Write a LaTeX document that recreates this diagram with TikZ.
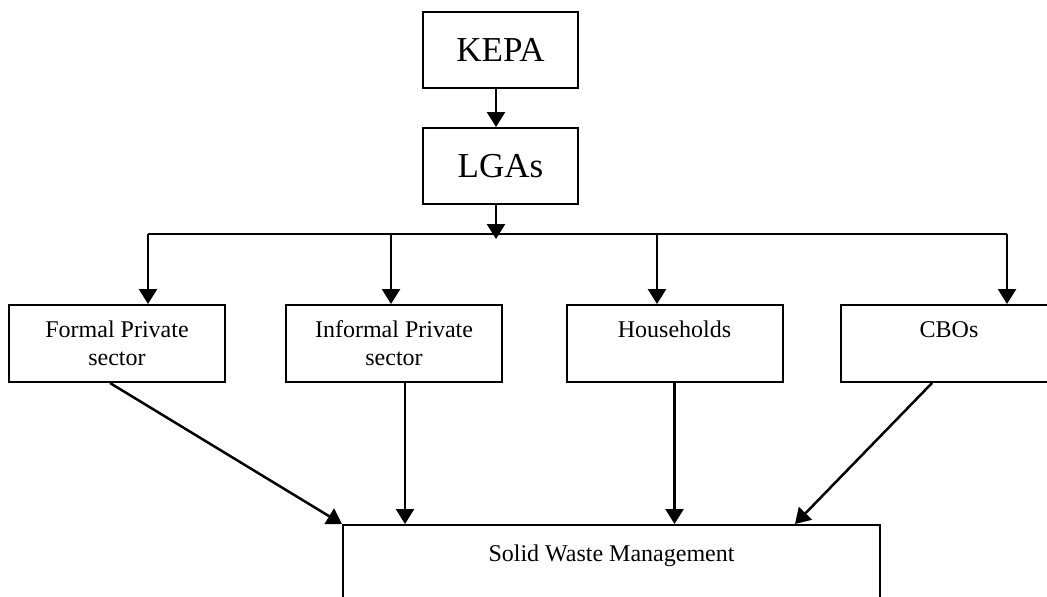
\documentclass[tikz,border=0pt]{standalone}
\usepackage{fontspec}
\setmainfont{Liberation Serif}
\usetikzlibrary{arrows.meta}

\begin{document}
\begin{tikzpicture}[x=0.5pt, y=-0.5pt, line width=1pt,
  arr/.style={line width=1.25pt, -{Triangle[length=7.5pt, width=9pt]}},
  head/.style={draw, minimum width=77.5pt, minimum height=38pt, inner sep=0pt, font=\fontsize{17.5}{20}\selectfont},
  box/.style={draw, minimum width=108pt, minimum height=38.5pt, inner sep=0pt, align=center, font=\fontsize{12}{14}\selectfont}]

\useasboundingbox (0,0) rectangle (1047,596);
\clip (0,0) rectangle (1047,596);

\node[head] at (500.5, 50)   (kepa)     {KEPA};
\node[head] at (500.5, 166)  (lgas)     {LGAs};
\node[box] at (117, 343.5)   (formal)   {Formal Private\\sector};
\node[box] at (394, 343.5)   (informal) {Informal Private\\sector};
\node[box] at (674.5, 343.5) (house)    {Households\\~};
\node[box] at (949, 343.5)   (cbos)     {CBOs\\~};
\node[draw, anchor=north, minimum width=268.5pt, inner xsep=0pt, inner ysep=9.5pt,
      text height=8.5pt, text depth=60pt, font=\fontsize{12}{14}\selectfont]
      at (611.5, 524) (swm) {Solid Waste Management};

% distribution line under LGAs
\coordinate (hub) at (496, 239);
\coordinate (b1) at (148, 234);
\coordinate (b2) at (391, 234);
\coordinate (b3) at (657, 234);
\coordinate (b4) at (1007, 234);
\coordinate (s4) at (795, 524);

\draw (b1) -- (b4);

\path[arr]
	([xshift=-2.25pt]kepa.south) edge ([xshift=-2.25pt]lgas.north)
	(hub |- lgas.south) edge (hub)
	(b1) edge (b1 |- formal.north)
	(b2) edge (b2 |- informal.north)
	(b3) edge (b3 |- house.north)
	(b4) edge (b4 |- cbos.north)
	([xshift=-3.5pt]formal.south) edge (swm.north west)
	([xshift=5.5pt]informal.south) edge ([xshift=5.5pt]informal.south |- swm.north)
	(house.south) edge (house.south |- swm.north)
	([xshift=-8.5pt]cbos.south) edge (s4);

\end{tikzpicture}
\end{document}
